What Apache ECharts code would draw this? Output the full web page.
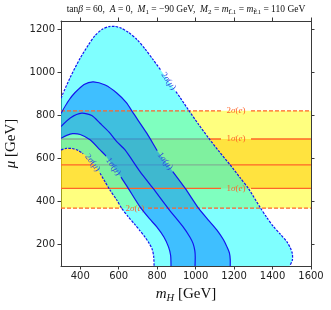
<!DOCTYPE html>
<html><head><meta charset="utf-8">
<script src="https://cdn.jsdelivr.net/npm/echarts@6/dist/echarts.min.js"></script>
<style>html,body{margin:0;padding:0;background:#fff}#c{width:331px;height:310px}</style>
</head><body><div id="c"></div>
<script>
// ---------- data ----------
const mH_range = [300, 1600];
const mu_range = [100, 1240];
const mH_ticks = [400, 600, 800, 1000, 1200, 1400, 1600];
const mu_ticks = [200, 400, 600, 800, 1000, 1200];

// 2σ(μ) outer boundary (dashed)
const mu2sOuter_mH = [300, 347, 399, 442, 477, 515, 550, 580, 612, 650, 696, 737, 779, 824, 867, 920, 963, 1013, 1067, 1123, 1180, 1232, 1275, 1336, 1370, 1405, 1440, 1475, 1492, 1503, 1503, 1489];
const mu2sOuter_mu = [881, 976, 1066, 1128, 1172, 1202, 1214, 1215, 1207, 1188, 1153, 1110, 1060, 1005, 950, 883, 826, 762, 696, 632, 570, 510, 460, 372, 326, 283, 249, 212, 185, 158, 127, 100];
// 2σ(μ) inner boundary (dashed)
const mu2sInner_mH = [300, 326, 357, 389, 425, 461, 493, 529, 555, 590, 616, 649, 685, 711, 737, 758, 774, 782, 784];
const mu2sInner_mu = [640, 647, 647, 638, 617, 584, 547, 492, 453, 407, 368, 330, 292, 264, 234, 206, 178, 145, 100];
// 1σ(μ) outer boundary
const mu1sOuter_mH = [300, 340, 372, 420, 468, 530, 590, 640, 676, 746, 798, 841, 946, 1015, 1065, 1111, 1145, 1163, 1176, 1180, 1180];
const mu1sOuter_mu = [810, 870, 906, 945, 957, 942, 905, 860, 811, 718, 640, 588, 461, 369, 315, 267, 222, 189, 160, 130, 100];
// central μ line
const muCentral_mH = [300, 350, 408, 460, 503, 550, 590, 633, 711, 779, 860, 935, 970, 987, 996, 998, 997];
const muCentral_mu = [749, 790, 811, 800, 764, 723, 679, 640, 539, 461, 365, 282, 235, 204, 170, 142, 100];
// 1σ(μ) inner boundary
const mu1sInner_mH = [300, 330, 360, 400, 451, 503, 529, 572, 616, 650, 711, 760, 798, 835, 859, 870, 872];
const mu1sInner_mu = [694, 708, 716, 712, 687, 640, 617, 562, 508, 461, 375, 320, 282, 235, 189, 150, 100];

// electron bands (horizontal)
const e2s = [369, 822];
const e1s = [461, 691];
const eCentral = 571;

// contour labels
const muLabel_text = ['2σ(μ)', '2σ(μ)', '1σ(μ)', '1σ(μ)'];
const muLabel_mH = [858, 460, 572, 841];
const muLabel_mu = [960, 578, 562, 588];
const eLabel_text = ['2σ(e)', '1σ(e)', '1σ(e)', '2σ(e)'];
const eLabel_mH = [1210, 1210, 1210, 685];
const eLabel_mu = [822, 691, 461, 369];

// ---------- styles ----------
const SERIF = '"Liberation Serif", "DejaVu Serif", serif';
const SANS = '"DejaVu Sans", sans-serif';
const AX = '#3a3a3a';
const BLUE = '#1414ee';
const ORANGE = '#ff6428';
const SM = 0.25;

function richLabel(t) {
  return t[0] + '{i|' + t[1] + '}(' + '{i|' + t[3] + '})';
}

function segCircle(q, p, c, r) {
  const dx = p[0] - q[0], dy = p[1] - q[1];
  const fx = q[0] - c[0], fy = q[1] - c[1];
  const a = dx * dx + dy * dy, b = 2 * (fx * dx + fy * dy), cc = fx * fx + fy * fy - r * r;
  const disc = b * b - 4 * a * cc;
  if (a === 0 || disc <= 0) return [];
  const s = Math.sqrt(disc);
  return [(-b - s) / (2 * a), (-b + s) / (2 * a)].filter(t => t > 0 && t < 1);
}
function cutPiece(pc, c, r) {
  const res = []; let cur = [];
  const ins = p => Math.hypot(p[0] - c[0], p[1] - c[1]) < r;
  let inside = ins(pc[0]);
  if (!inside) cur.push(pc[0]);
  for (let i = 1; i < pc.length; i++) {
    const q = pc[i - 1], p = pc[i];
    for (const t of segCircle(q, p, c, r)) {
      const m = [q[0] + (p[0] - q[0]) * t, q[1] + (p[1] - q[1]) * t];
      if (!inside) { cur.push(m); if (cur.length > 1) res.push(cur); cur = []; inside = true; }
      else { cur = [m]; inside = false; }
    }
    if (!inside) cur.push(p);
  }
  if (cur.length > 1) res.push(cur);
  return res;
}
function snap(pts, c) {
  let best = { d: Infinity };
  for (let i = 0; i < pts.length - 1; i++) {
    const a = pts[i], b = pts[i + 1];
    const dx = b[0] - a[0], dy = b[1] - a[1], L2 = dx * dx + dy * dy || 1;
    let t = ((c[0] - a[0]) * dx + (c[1] - a[1]) * dy) / L2; t = Math.max(0, Math.min(1, t));
    const x = a[0] + t * dx, y = a[1] + t * dy, d = Math.hypot(x - c[0], y - c[1]);
    if (d < best.d) best = { d, x, y, ang: Math.atan2(dy, dx) };
  }
  return best;
}

function lineSeries(xs, ys, stroke, width, dash, labels, labelColor, gap, z) {
  return {
    type: 'custom', coordinateSystem: 'cartesian2d', clip: true, silent: true, z: z,
    data: [[xs[0], ys[0]]],
    renderItem: (p, api) => {
      const pts = xs.map((x, i) => api.coord([x, ys[i]]));
      const labs = labels.map(l => {
        const s = snap(pts, api.coord([l.mH, l.mu]));
        let a = s.ang; if (a > Math.PI / 2) a -= Math.PI; if (a < -Math.PI / 2) a += Math.PI;
        return { x: s.x, y: s.y, rot: -a, text: l.text };
      });
      let pieces = [pts];
      labs.forEach(l => { let out = []; pieces.forEach(pc => { out = out.concat(cutPiece(pc, [l.x, l.y], gap)); }); pieces = out; });
      const children = pieces.map(pc => ({
        type: 'polyline', shape: { points: pc, smooth: xs.length > 2 ? SM : 0 },
        style: { stroke: stroke, lineWidth: width, lineDash: dash, fill: 'none' }
      }));
      labs.forEach(l => children.push({
        type: 'text', x: l.x, y: l.y, rotation: l.rot,
        style: {
          text: richLabel(l.text), fill: labelColor, fontFamily: SERIF, fontSize: 9,
          align: 'center', verticalAlign: 'middle',
          rich: { i: { fontStyle: 'italic', fill: labelColor, fontFamily: SERIF, fontSize: 9 } }
        }
      }));
      return { type: 'group', children: children };
    }
  };
}

function fillSeries(buildPts, color, smooth, z) {
  return {
    type: 'custom', coordinateSystem: 'cartesian2d', clip: true, silent: true, z: z,
    data: [[mH_range[0], mu_range[0]]],
    renderItem: (p, api) => ({
      type: 'polygon',
      shape: { points: buildPts().map(d => api.coord(d)), smooth: smooth },
      style: { fill: color }
    })
  };
}

function regionPts(ox, oy, ix, iy) {
  const low = mu_range[0] - 60, left = mH_range[0] - 60;
  const pts = ox.map((x, i) => [x, oy[i]]);
  pts.push([ox[ox.length - 1], low], [ix[ix.length - 1], low]);
  for (let i = ix.length - 1; i >= 0; i--) pts.push([ix[i], iy[i]]);
  pts.push([left, iy[0]], [left, oy[0]]);
  return pts;
}
function bandPts(b) {
  return [[mH_range[0], b[0]], [mH_range[1], b[0]], [mH_range[1], b[1]], [mH_range[0], b[1]]];
}
function labelsFor(idx, texts, xs, ys) {
  return idx.map(i => ({ text: texts[i], mH: xs[i], mu: ys[i] }));
}
const eLab = i => labelsFor([i], eLabel_text, eLabel_mH, eLabel_mu);
const muLab = i => labelsFor([i], muLabel_text, muLabel_mH, muLabel_mu);

const series = [
  fillSeries(() => bandPts(e2s), 'rgba(255,255,0,0.5)', 0, 1),
  fillSeries(() => bandPts(e1s), 'rgba(255,200,0,0.5)', 0, 1),
  lineSeries(mH_range, [e1s[1], e1s[1]], ORANGE, 1.3, null, eLab(1), ORANGE, 15, 1),
  lineSeries(mH_range, [eCentral, eCentral], ORANGE, 1.3, null, [], ORANGE, 15, 1),
  fillSeries(() => regionPts(mu2sOuter_mH, mu2sOuter_mu, mu2sInner_mH, mu2sInner_mu), 'rgba(0,255,255,0.5)', SM, 2),
  fillSeries(() => regionPts(mu1sOuter_mH, mu1sOuter_mu, mu1sInner_mH, mu1sInner_mu), 'rgba(0,127,255,0.5)', SM, 2),
  lineSeries(mH_range, [e2s[1], e2s[1]], ORANGE, 1.2, [4, 2], eLab(0), ORANGE, 15, 3),
  lineSeries(mH_range, [e1s[0], e1s[0]], ORANGE, 1.3, null, eLab(2), ORANGE, 15, 3),
  lineSeries(mH_range, [e2s[0], e2s[0]], ORANGE, 1.2, [4, 2], eLab(3), ORANGE, 13, 3),
  lineSeries(mu2sOuter_mH, mu2sOuter_mu, BLUE, 1.2, [2.5, 1.3], muLab(0), '#3048e0', 13, 4),
  lineSeries(mu2sInner_mH, mu2sInner_mu, BLUE, 1.2, [2.5, 1.3], muLab(1), '#3048e0', 13, 4),
  lineSeries(mu1sOuter_mH, mu1sOuter_mu, BLUE, 1.2, null, muLab(3), '#3048e0', 13, 4),
  lineSeries(muCentral_mH, muCentral_mu, BLUE, 1.2, null, [], '#3048e0', 13, 4),
  lineSeries(mu1sInner_mH, mu1sInner_mu, BLUE, 1.2, null, muLab(2), '#3048e0', 13, 4)
];

const axCommon = {
  type: 'value', splitLine: { show: false },
  axisLine: { show: true, onZero: false, lineStyle: { color: AX, width: 1 } },
  axisTick: { show: true, inside: false, length: 3.5, lineStyle: { color: AX, width: 1 } }
};
const labelStyle = { color: '#222', fontFamily: SANS, fontSize: 10, formatter: v => String(v) };

const chart = echarts.init(document.getElementById('c'), null, { renderer: 'canvas' });
chart.setOption({
  animation: false,
  backgroundColor: '#fff',
  title: {
    text: '{n|tan}{i|β}{n| = 60,  }{i|A}{n| = 0,  }{i|M}{s|1}{n| = −90 GeV,  }{i|M}{s|2}{n| = }{i|m}{s|L̃1}{n| = }{i|m}{s|Ẽ1}{n| = 110 GeV}',
    left: 186, top: 3, textAlign: 'center', padding: 0,
    textStyle: {
      fontFamily: SERIF, fontSize: 9.5, fontWeight: 'normal', color: '#111',
      rich: {
        n: { fontFamily: SERIF, fontSize: 9.5, fontWeight: 'normal', color: '#111' },
        i: { fontFamily: SERIF, fontSize: 9.5, fontWeight: 'normal', fontStyle: 'italic', color: '#111' },
        s: { fontFamily: SERIF, fontSize: 7, fontWeight: 'normal', color: '#111', verticalAlign: 'bottom', lineHeight: 13 }
      }
    }
  },
  grid: { left: 61, right: 20, top: 21, bottom: 44, containLabel: false, outerBoundsMode: 'none' },
  xAxis: [
    Object.assign({}, axCommon, {
      min: mH_range[0], max: mH_range[1], position: 'bottom',
      axisTick: Object.assign({}, axCommon.axisTick, { customValues: mH_ticks }),
      axisLabel: Object.assign({ customValues: mH_ticks, margin: 5 }, labelStyle),
      name: '{i|m}{s|H}{n| [GeV]}', nameLocation: 'middle', nameGap: 18,
      nameTextStyle: {
        fontFamily: SERIF, fontSize: 15, color: '#111',
        rich: {
          i: { fontFamily: SERIF, fontSize: 15, fontStyle: 'italic', color: '#111' },
          s: { fontFamily: SERIF, fontSize: 10.5, fontStyle: 'italic', color: '#111', verticalAlign: 'bottom', lineHeight: 20 },
          n: { fontFamily: SERIF, fontSize: 15, color: '#111' }
        }
      }
    }),
    Object.assign({}, axCommon, {
      min: mH_range[0], max: mH_range[1], position: 'top',
      axisTick: Object.assign({}, axCommon.axisTick, { customValues: mH_ticks }),
      axisLabel: { show: false }
    })
  ],
  yAxis: [
    Object.assign({}, axCommon, {
      min: mu_range[0], max: mu_range[1], position: 'left',
      axisTick: Object.assign({}, axCommon.axisTick, { customValues: mu_ticks }),
      axisLabel: Object.assign({ customValues: mu_ticks, margin: 6 }, labelStyle),
      name: '{i|μ}{n| [GeV]}', nameLocation: 'middle', nameGap: 31, nameRotate: 90,
      nameTextStyle: {
        fontFamily: SERIF, fontSize: 15, color: '#111',
        rich: {
          i: { fontFamily: SERIF, fontSize: 15, fontStyle: 'italic', color: '#111' },
          n: { fontFamily: SERIF, fontSize: 15, color: '#111' }
        }
      }
    }),
    Object.assign({}, axCommon, {
      min: mu_range[0], max: mu_range[1], position: 'right',
      axisTick: Object.assign({}, axCommon.axisTick, { customValues: mu_ticks }),
      axisLabel: { show: false }
    })
  ],
  series: series
});
</script></body></html>
